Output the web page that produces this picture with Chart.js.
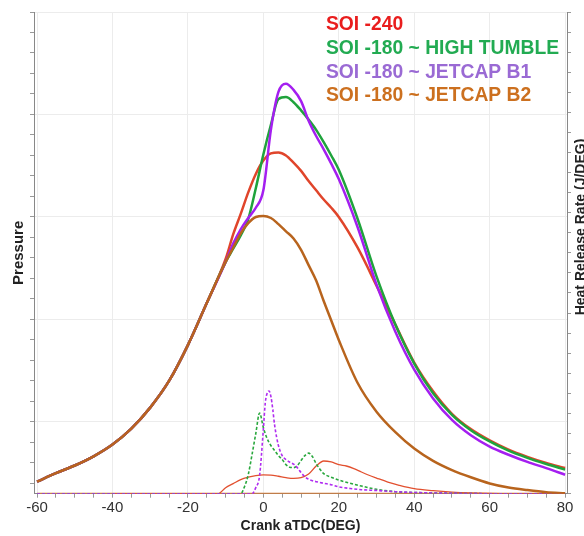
<!DOCTYPE html>
<html>
<head>
<meta charset="utf-8">
<script src="https://cdn.jsdelivr.net/npm/chart.js@4"></script>
<style>
  html, body { margin: 0; padding: 0; background: #fff; overflow: hidden; }
  #wrap { position: relative; width: 584px; height: 536px; }
</style>
</head>
<body>
<div id="wrap"><canvas id="chart" width="584" height="536"></canvas></div>
<script>
// === Data ===
var crankAngle = [-60, -55, -50, -45, -40, -35, -30, -25, -20, -15, -10,
    -8, -6, -4, -2, 0, 2, 4, 6, 8, 10, 12, 14, 16, 18, 20,
    25, 30, 35, 40, 45, 50, 55, 60, 65, 70, 75, 80];

// cylinder pressure (no units shown on the axis)
var pSoi240 = [1.17, 2.0, 2.75, 3.65, 4.8, 6.35, 8.4, 11.0, 14.5, 18.6, 22.9,
    25.3, 27.3, 29.4, 31.2, 32.5, 33.2, 33.3, 33.0, 32.3, 31.5, 30.5, 29.6, 28.7, 27.9, 27.0,
    24.0, 20.3, 16.5, 12.8, 10.0, 7.8, 6.3, 5.2, 4.3, 3.6, 3.0, 2.5];
var pHighTumble = [1.17, 2.0, 2.75, 3.65, 4.8, 6.35, 8.4, 11.0, 14.5, 18.6, 22.6,
    23.9, 25.2, 26.8, 29.8, 33.1, 36.0, 38.5, 38.7, 38.2, 37.4, 36.5, 35.5, 34.3, 33.0, 31.6,
    26.8, 21.2, 16.5, 12.7, 9.8, 7.7, 6.2, 5.1, 4.2, 3.5, 2.9, 2.35];
var pJetcapB1 = [1.17, 2.0, 2.75, 3.65, 4.8, 6.35, 8.4, 11.0, 14.5, 18.6, 22.6,
    24.4, 25.8, 26.9, 27.9, 29.6, 35.5, 39.2, 40.0, 39.4, 38.3, 36.4, 34.9, 33.6, 32.2, 30.7,
    26.0, 20.4, 15.8, 12.1, 9.3, 7.2, 5.7, 4.6, 3.8, 3.1, 2.5, 1.85];
var pJetcapB2 = [1.17, 2.0, 2.75, 3.65, 4.8, 6.35, 8.4, 11.0, 14.5, 18.6, 22.6,
    24.0, 25.4, 26.4, 27.0, 27.1, 26.9, 26.3, 25.6, 24.9, 23.8, 22.3, 20.8, 18.8, 16.9, 15.0,
    10.8, 8.0, 6.0, 4.4, 3.2, 2.3, 1.6, 1.0, 0.6, 0.35, 0.15, 0.05];

// heat release rate (J/DEG)
var hrrAngle240 = [-40, -12, -10, -8, -6, -4, -2, 0, 2, 4, 6, 8, 10, 12, 14, 16, 18, 20,
    22, 24, 26, 28, 30, 33, 36, 40, 45, 50, 55, 60, 70, 80];
var hrrSoi240 = [0, 0, 0.3, 0.5, 0.7, 0.82, 0.9, 0.94, 0.93, 0.87, 0.8, 0.76, 0.8, 0.98, 1.38, 1.63, 1.58, 1.45,
    1.38, 1.25, 1.08, 0.92, 0.78, 0.58, 0.42, 0.25, 0.15, 0.08, 0.04, 0.02, 0, 0];

var hrrAngleHT = [-60, -6, -5, -4, -3, -2, -1, 0, 1, 2, 3, 4, 5, 6, 7, 8, 9, 10, 11, 12,
    13, 14, 15, 16, 18, 20, 23, 26, 30, 35, 40, 50, 60, 80];
var hrrHighTumble = [0, 0, 0.35, 0.95, 1.95, 3.0, 4.02, 3.3, 2.75, 2.4, 2.15, 1.9, 1.7, 1.45, 1.32, 1.3, 1.4, 1.65, 1.9, 2.02,
    1.85, 1.5, 1.22, 1.0, 0.82, 0.68, 0.52, 0.38, 0.22, 0.1, 0.06, 0.02, 0, 0];

var hrrAngleB1 = [-60, -3, -2, -1, 0, 0.5, 1, 1.5, 2, 2.5, 3, 4, 5, 6, 7, 8, 9, 10, 11, 12,
    13, 14, 16, 18, 20, 23, 26, 30, 35, 40, 50, 60, 80];
var hrrJetcapB1 = [0, 0, 0.3, 0.9, 3.2, 4.5, 5.0, 5.12, 4.85, 4.2, 3.4, 2.4, 1.9, 1.7, 1.57, 1.47, 1.3, 1.05, 0.85, 0.72,
    0.65, 0.6, 0.52, 0.45, 0.34, 0.26, 0.2, 0.16, 0.1, 0.06, 0.02, 0, 0];

var hrrAngleB2 = [-60, 80];
var hrrJetcapB2 = [0, 0];

var legendLabels = ['SOI -240', 'SOI -180 ~ HIGH TUMBLE', 'SOI -180 ~ JETCAP B1', 'SOI -180 ~ JETCAP B2'];
var legendColors = ['#e91d1d', '#22ab52', '#9a6ad4', '#cc701f'];
var xMajorStep = 20;

// === Helpers ===
function pairs(xs, ys) {
    return xs.map(function(x, i) { return {x: x, y: ys[i]}; });
}

function stepTicks(from, to, step) {
    var out = [];
    for (var v = from; v <= to + 1e-9; v += step) out.push({value: v});
    return out;
}

var overlayText = {
    id: 'overlayText',
    afterDraw: function(chart) {
        var ctx = chart.ctx;
        ctx.save();
        ctx.font = 'bold 19.3px "Liberation Sans", Arial, sans-serif';
        ctx.textBaseline = 'middle';
        ctx.textAlign = 'left';
        legendLabels.forEach(function(label, i) {
            ctx.fillStyle = legendColors[i];
            ctx.fillText(label, 326, 25 + i * 23.7);
        });
        // right axis title, cut by the page edge like the original
        ctx.font = 'bold 14px "Liberation Sans", Arial, sans-serif';
        ctx.fillStyle = '#222';
        ctx.translate(581, 227);
        ctx.rotate(-Math.PI / 2);
        ctx.textAlign = 'center';
        ctx.fillText('Heat Release Rate (J/DEG)', 0, 0);
        ctx.restore();
    }
};

var pressureLine = { borderWidth: 2.5, pointRadius: 0, cubicInterpolationMode: 'monotone', yAxisID: 'yP' };
var hrrLine = { borderWidth: 1.6, pointRadius: 0, cubicInterpolationMode: 'monotone', yAxisID: 'yH' };

var ctx = document.getElementById('chart').getContext('2d');
new Chart(ctx, {
    type: 'line',
    data: {
        datasets: [
            Object.assign({}, pressureLine, { label: legendLabels[3], data: pairs(crankAngle, pJetcapB2), borderColor: '#b8641d', order: 1 }),
            Object.assign({}, pressureLine, { label: legendLabels[1], data: pairs(crankAngle, pHighTumble), borderColor: '#1fa33c', order: 3 }),
            Object.assign({}, pressureLine, { label: legendLabels[2], data: pairs(crankAngle, pJetcapB1), borderColor: '#a41ff0', order: 2 }),
            Object.assign({}, pressureLine, { label: legendLabels[0], data: pairs(crankAngle, pSoi240), borderColor: '#e0452b', order: 4 }),
            Object.assign({}, hrrLine, { label: 'HRR B2', data: pairs(hrrAngleB2, hrrJetcapB2), borderColor: '#d27a36', borderWidth: 2, order: 9 }),
            Object.assign({}, hrrLine, { label: 'HRR 240', data: pairs(hrrAngle240, hrrSoi240), borderColor: '#e2502f', borderWidth: 1.3, order: 8 }),
            Object.assign({}, hrrLine, { label: 'HRR HT', data: pairs(hrrAngleHT, hrrHighTumble), borderColor: '#2aa83e', borderDash: [3, 2], order: 7 }),
            Object.assign({}, hrrLine, { label: 'HRR B1', data: pairs(hrrAngleB1, hrrJetcapB1), borderColor: '#b02cf0', borderDash: [3, 2], order: 6 })
        ]
    },
    options: {
        responsive: false,
        animation: false,
        layout: { padding: { top: 12, left: 5, right: 13, bottom: 0 } },
        plugins: { legend: { display: false }, tooltip: { enabled: false } },
        scales: {
            x: {
                type: 'linear',
                min: -60.8,
                max: 80.5,
                afterBuildTicks: function(scale) { scale.ticks = stepTicks(-60, 80, 5); },
                ticks: {
                    autoSkip: false,
                    maxRotation: 0,
                    padding: 2,
                    color: '#333',
                    font: { family: '"Liberation Sans", Arial, sans-serif', size: 15, lineHeight: 1.1 },
                    callback: function(v) { return v % xMajorStep === 0 ? String(v) : ''; }
                },
                grid: {
                    color: function(c) { return c.tick && c.tick.value % xMajorStep === 0 ? '#ececec' : 'rgba(0,0,0,0)'; },
                    tickColor: '#999',
                    tickLength: 4
                },
                border: { color: '#888' },
                title: {
                    display: true,
                    text: 'Crank aTDC(DEG)',
                    color: '#222',
                    padding: { top: 0, bottom: 1 },
                    font: { family: '"Liberation Sans", Arial, sans-serif', size: 14, weight: 'bold' }
                }
            },
            yP: {
                type: 'linear',
                position: 'left',
                min: 0,
                max: 47,
                afterBuildTicks: function(scale) { scale.ticks = stepTicks(1, 47, 2); },
                ticks: { display: false },
                grid: {
                    color: function(c) { return c.tick && (c.tick.value - 7) % 10 === 0 ? '#ececec' : 'rgba(0,0,0,0)'; },
                    tickColor: '#999',
                    tickLength: 4
                },
                border: { color: '#888' },
                title: {
                    display: true,
                    text: 'Pressure',
                    color: '#222',
                    padding: { top: 5, bottom: 2 },
                    font: { family: '"Liberation Sans", Arial, sans-serif', size: 15, weight: 'bold' }
                }
            },
            yH: {
                type: 'linear',
                position: 'right',
                min: 0,
                max: 24,
                afterBuildTicks: function(scale) { scale.ticks = stepTicks(0, 24, 1); },
                ticks: { display: false },
                grid: { drawOnChartArea: false, tickColor: '#999', tickLength: 4 },
                border: { color: '#888' }
            }
        }
    },
    plugins: [overlayText]
});
</script>
</body>
</html>
